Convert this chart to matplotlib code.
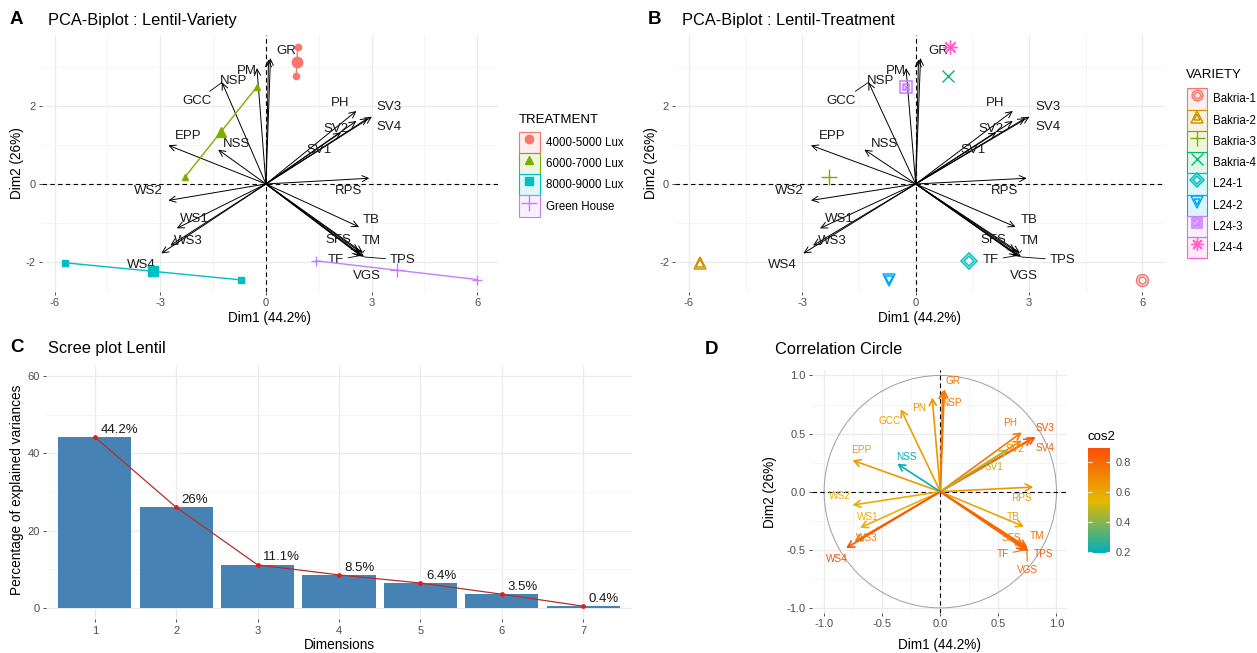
import numpy as np
import matplotlib
matplotlib.use('Agg')
import matplotlib.pyplot as plt
from matplotlib.patches import Rectangle, Circle
from matplotlib.lines import Line2D
from matplotlib.colors import LinearSegmentedColormap, Normalize, to_rgba
from matplotlib.legend_handler import HandlerTuple
from matplotlib.cm import ScalarMappable

plt.rcParams['font.family'] = ['Liberation Sans', 'DejaVu Sans']
plt.rcParams['axes.unicode_minus'] = False

# ---------------- data ----------------
variables = ['GR', 'NSP', 'PM', 'GCC', 'EPP', 'NSS', 'WS2', 'WS1', 'WS3', 'WS4',
             'PH', 'SV3', 'SV4', 'SV2', 'SV1', 'RPS', 'TB', 'SFS', 'TM', 'TF', 'TPS', 'VGS']
circle_names = ['GR', 'NSP', 'PN', 'GCC', 'EPP', 'NSS', 'WS2', 'WS1', 'WS3', 'WS4',
                'PH', 'SV3', 'SV4', 'SV2', 'SV1', 'RPS', 'TB', 'SFS', 'TM', 'TF', 'TPS', 'VGS']
var_dim1 = [0.035, 0.02, -0.07, -0.34, -0.755, -0.37, -0.755, -0.69, -0.74, -0.81,
            0.70, 0.82, 0.79, 0.70, 0.58, 0.80, 0.72, 0.72, 0.75, 0.73, 0.76, 0.745]
var_dim2 = [0.88, 0.87, 0.81, 0.71, 0.27, 0.24, -0.115, -0.31, -0.43, -0.485,
            0.51, 0.47, 0.46, 0.44, 0.36, 0.04, -0.30, -0.47, -0.48, -0.50, -0.51, -0.505]

individuals = ['Bakria-1', 'Bakria-2', 'Bakria-3', 'Bakria-4', 'L24-1', 'L24-2', 'L24-3', 'L24-4']
ind_dim1 = [6.0, -5.71, -2.29, 0.86, 1.42, -0.70, -0.26, 0.90]
ind_dim2 = [-2.45, -2.02, 0.19, 2.76, -1.97, -2.46, 2.49, 3.50]
ind_treatment = ['Green House', '8000-9000 Lux', '6000-7000 Lux', '4000-5000 Lux',
                 'Green House', '8000-9000 Lux', '6000-7000 Lux', '4000-5000 Lux']
treatments = ['4000-5000 Lux', '6000-7000 Lux', '8000-9000 Lux', 'Green House']

dimensions = [1, 2, 3, 4, 5, 6, 7]
explained = [44.2, 26.0, 11.1, 8.5, 6.4, 3.5, 0.4]

dim1_label = 'Dim1 (44.2%)'
dim2_label = 'Dim2 (26%)'

# ---------------- styles / positions ----------------
biplot_scale = 3.67
treat_colors = ['#F8766D', '#7CAE00', '#00BFC4', '#C77CFF']
treat_markers = ['o', '^', 's', '+']
var_colors = ['#F8766D', '#CD9600', '#7CAE00', '#00BE67', '#00BFC4', '#00A9FF', '#C77CFF', '#FF61CC']

bi_label_pos = {'GR': (0.59, 3.42), 'PM': (-0.53, 2.89), 'NSP': (-0.93, 2.63), 'GCC': (-1.97, 2.13),
                'EPP': (-2.22, 1.24), 'NSS': (-0.83, 1.03), 'WS2': (-3.34, -0.17), 'WS1': (-2.02, -0.90),
                'WS3': (-2.21, -1.45), 'WS4': (-3.53, -2.09), 'PH': (2.10, 2.07), 'SV3': (3.5, 1.97),
                'SV4': (3.5, 1.45), 'SV2': (1.99, 1.41), 'SV1': (1.51, 0.87), 'RPS': (2.34, -0.18),
                'TB': (3.0, -0.92), 'SFS': (2.06, -1.43), 'TM': (3.0, -1.45), 'TF': (1.99, -1.95),
                'TPS': (3.88, -1.95), 'VGS': (2.86, -2.37)}
bi_segments = ['GCC', 'TF', 'TPS', 'TM']
circ_label_pos = {'GR': (0.11, 0.95), 'NSP': (0.10, 0.76), 'PN': (-0.18, 0.72), 'GCC': (-0.44, 0.61),
                  'EPP': (-0.68, 0.36), 'NSS': (-0.29, 0.30), 'WS2': (-0.865, -0.035), 'WS1': (-0.62, -0.215),
                  'WS3': (-0.635, -0.40), 'WS4': (-0.89, -0.58), 'PH': (0.60, 0.595), 'SV3': (0.90, 0.55),
                  'SV4': (0.90, 0.38), 'SV2': (0.64, 0.365), 'SV1': (0.46, 0.215), 'RPS': (0.70, -0.057),
                  'TB': (0.63, -0.215), 'SFS': (0.615, -0.40), 'TM': (0.83, -0.38), 'TF': (0.54, -0.54),
                  'TPS': (0.89, -0.54), 'VGS': (0.75, -0.675)}
circ_segments = ['TF', 'VGS']

W, H = 1257, 653
fig = plt.figure(figsize=(W / 100, H / 100), dpi=100)
fig.patch.set_facecolor('white')


def rect(l, t, r, b):
    return [l / W, 1 - b / H, (r - l) / W, (b - t) / H]


def fx(x):
    return x / W


def fy(y):
    return 1 - y / H


def style_axes(ax, xmaj, ymaj, xmin=(), ymin=()):
    ax.set_facecolor('white')
    for s in ax.spines.values():
        s.set_visible(False)
    ax.set_xticks(xmaj)
    ax.set_yticks(ymaj)
    ax.set_xticks(list(xmin), minor=True)
    ax.set_yticks(list(ymin), minor=True)
    ax.grid(True, which='major', color='#EBEBEB', lw=0.9)
    ax.grid(True, which='minor', color='#F4F4F4', lw=0.6)
    ax.tick_params(which='major', length=2.5, width=0.6, color='#333333', labelsize=8,
                   labelcolor='#4D4D4D', pad=2)
    ax.tick_params(which='minor', length=0)
    ax.set_axisbelow(True)


def biplot_base(ax):
    style_axes(ax, [-6, -3, 0, 3, 6], [-2, 0, 2], [-4.5, -1.5, 1.5, 4.5], [-1, 1, 3])
    ax.set_xlim(-6.36, 6.59)
    ax.set_ylim(-2.77, 3.82)
    ax.axhline(0, color='black', ls=(0, (4, 3)), lw=0.8, zorder=1)
    ax.axvline(0, color='black', ls=(0, (4, 3)), lw=0.8, zorder=1)
    for name, d1, d2 in zip(variables, var_dim1, var_dim2):
        tip = (biplot_scale * d1, biplot_scale * d2)
        ax.annotate('', xy=tip, xytext=(0, 0),
                    arrowprops=dict(arrowstyle='->,head_length=0.45,head_width=0.22', lw=0.7,
                                    color='black', shrinkA=0, shrinkB=0), zorder=3)
    for name, d1, d2 in zip(variables, var_dim1, var_dim2):
        tip = (biplot_scale * d1, biplot_scale * d2)
        lx, ly = bi_label_pos[name]
        if name in bi_segments:
            ax.annotate(name, xy=tip, xytext=(lx, ly), ha='center', va='center', fontsize=9.5,
                        color='#1A1A1A',
                        arrowprops=dict(arrowstyle='-', lw=0.6, color='black', shrinkA=1, shrinkB=0),
                        zorder=4)
        else:
            ax.text(lx, ly, name, ha='center', va='center', fontsize=9.5, color='#1A1A1A', zorder=4)


def panel_titles(letter, lx, title, tx, y):
    fig.text(fx(lx), fy(y), letter, fontsize=13.5, fontweight='bold', ha='left', va='center')
    fig.text(fx(tx), fy(y), title, fontsize=11.8, ha='left', va='center')


legend_kw = dict(handler_map={tuple: HandlerTuple(ndivide=1, pad=0)}, loc='upper left',
                 frameon=False, fontsize=8.3, handlelength=1.8,
                 handleheight=2.46, labelspacing=0.0, borderpad=0,
                 handletextpad=0.52, borderaxespad=0)

# ---------------- Panel A ----------------
axA = fig.add_axes(rect(42, 35, 498, 292))
biplot_base(axA)
ind_dim1 = np.array(ind_dim1)
ind_dim2 = np.array(ind_dim2)
for t, c, m in zip(treatments, treat_colors, treat_markers):
    idx = [i for i, tt in enumerate(ind_treatment) if tt == t]
    xs, ys = ind_dim1[idx], ind_dim2[idx]
    axA.plot(xs, ys, color=c, lw=1.0, zorder=5)
    axA.plot(xs, ys, ls='', marker=m, color=c, ms=4.5 if m != '+' else 7, mew=1.0, zorder=6)
    axA.plot([xs.mean()], [ys.mean()], ls='', marker=m, color=c, ms=7.5 if m != '+' else 10,
             mew=1.0, zorder=6)
panel_titles('A', 10, 'PCA-Biplot : Lentil-Variety', 48, 20)
fig.text(fx(270), fy(318), dim1_label, fontsize=9.8, ha='center', va='center')
fig.text(fx(17), fy(163), dim2_label, fontsize=9.8, ha='center', va='center', rotation=90)

handlesA = []
for c, m in zip(treat_colors, treat_markers):
    box = Rectangle((0, 0), 1, 1, facecolor=to_rgba(c, 0.12), edgecolor=c, lw=0.8)
    mk = Line2D([], [], ls='', marker=m, color=c, ms=6 if m != '+' else 11, mew=1.0)
    handlesA.append((box, mk))
fig.legend(handlesA, treatments, bbox_to_anchor=(fx(519), fy(131.7)), **legend_kw)
fig.text(fx(518.5), fy(120), 'TREATMENT', fontsize=9.5, ha='left', va='center')

# ---------------- Panel B ----------------
axB = fig.add_axes(rect(675.3, 35, 1164.8, 292))
biplot_base(axB)
outer_inner = [('o', 8.5, 5), ('^', 9, 5.5), ('+', 12, 12), ('x', 9, 9),
               ('D', 8, 5), ('v', 9, 5.5), ('s', 8, 5), ('asterisk', 10, 10)]
ast = (8, 2, 0)


def draw_shape(x, y, spec, c):
    m, big, small = spec
    arts = []
    if m == 'asterisk':
        arts.append(Line2D([x], [y], ls='', marker=ast, color=c, ms=big, mew=1.0))
    elif m in ('+', 'x'):
        arts.append(Line2D([x], [y], ls='', marker=m, color=c, ms=big, mew=1.0))
    else:
        arts.append(Line2D([x], [y], ls='', marker=m, mfc='none', mec=c, ms=big, mew=1.1))
        arts.append(Line2D([x], [y], ls='', marker=m, mfc='none', mec=c, ms=small, mew=1.1))
        if m == 's':
            arts.append(Line2D([x], [y], ls='', marker='x', color=c, ms=small, mew=0.9))
    return arts


for i, name in enumerate(individuals):
    for a in draw_shape(ind_dim1[i], ind_dim2[i], outer_inner[i], var_colors[i]):
        a.set_zorder(6)
        axB.add_line(a)
panel_titles('B', 648, 'PCA-Biplot : Lentil-Treatment', 682, 20)
fig.text(fx(920), fy(318), dim1_label, fontsize=9.8, ha='center', va='center')
fig.text(fx(651), fy(163), dim2_label, fontsize=9.8, ha='center', va='center', rotation=90)

handlesB = []
for i, c in enumerate(var_colors):
    box = Rectangle((0, 0), 1, 1, facecolor=to_rgba(c, 0.12), edgecolor=c, lw=0.8)
    m, big, small = outer_inner[i]
    parts = [box]
    for a in draw_shape(0, 0, (m, big * 0.9, small * 0.9), c):
        parts.append(Line2D([], [], ls='', marker=a.get_marker(), mfc=a.get_markerfacecolor(),
                            mec=a.get_markeredgecolor(), ms=a.get_markersize(),
                            mew=a.get_markeredgewidth()))
    handlesB.append(tuple(parts))
fig.legend(handlesB, individuals, bbox_to_anchor=(fx(1186.5), fy(88.3)), **legend_kw)
fig.text(fx(1186), fy(75), 'VARIETY', fontsize=9.5, ha='left', va='center')

# ---------------- Panel C ----------------
axC = fig.add_axes(rect(46, 364.5, 632, 619.3))
style_axes(axC, dimensions, [0, 20, 40, 60], [], [10, 30, 50])
axC.set_xlim(0.4, 7.6)
axC.set_ylim(-3, 63)
axC.bar(dimensions, explained, width=0.9, color='#4682B4', zorder=2)
axC.plot(dimensions, explained, color='#B0302C', lw=0.9, zorder=3)
axC.scatter(dimensions, explained, color='#E41A1C', s=12, zorder=4, linewidths=0)
for d, v in zip(dimensions, explained):
    axC.annotate(f'{v:g}%', (d, v), xytext=(4, 1), textcoords='offset points', ha='left',
                 va='bottom', fontsize=9.5, color='#1A1A1A', zorder=5)
panel_titles('C', 10, 'Scree plot Lentil', 48, 348)
fig.text(fx(339), fy(645), 'Dimensions', fontsize=9.8, ha='center', va='center')
fig.text(fx(17), fy(490), 'Percentage of explained variances', fontsize=9.8, ha='center',
         va='center', rotation=90)

# ---------------- Panel D ----------------
axD = fig.add_axes(rect(811.7, 370, 1066.7, 613))
style_axes(axD, [-1, -0.5, 0, 0.5, 1], [-1, -0.5, 0, 0.5, 1], [-0.75, -0.25, 0.25, 0.75],
           [-0.75, -0.25, 0.25, 0.75])
axD.set_xlim(-1.107, 1.088)
axD.set_ylim(-1.044, 1.047)
axD.xaxis.set_major_formatter(matplotlib.ticker.FormatStrFormatter('%.1f'))
axD.yaxis.set_major_formatter(matplotlib.ticker.FormatStrFormatter('%.1f'))
axD.add_patch(Circle((0, 0), 1, fill=False, edgecolor='#9E9E9E', lw=0.7, zorder=1))
axD.axhline(0, color='black', ls=(0, (4, 3)), lw=0.8, zorder=1)
axD.axvline(0, color='black', ls=(0, (4, 3)), lw=0.8, zorder=1)
d1 = np.array(var_dim1)
d2 = np.array(var_dim2)
cos2 = d1 ** 2 + d2 ** 2
cmap = LinearSegmentedColormap.from_list('fx', ['#00AFBB', '#E7B800', '#FC4E07'])
norm = Normalize(vmin=cos2.min(), vmax=cos2.max())
for name, x, y, q in zip(circle_names, d1, d2, cos2):
    col = cmap(norm(q))
    axD.annotate('', xy=(x, y), xytext=(0, 0),
                 arrowprops=dict(arrowstyle='->,head_length=0.45,head_width=0.25', lw=1.2,
                                 color=col, shrinkA=0, shrinkB=0), zorder=3)
for name, x, y, q in zip(circle_names, d1, d2, cos2):
    col = cmap(norm(q))
    lx, ly = circ_label_pos[name]
    if name in circ_segments:
        axD.annotate(name, xy=(x, y), xytext=(lx, ly), ha='center', va='center', fontsize=7.2,
                     color=col, arrowprops=dict(arrowstyle='-', lw=0.8, color=col, shrinkA=1,
                                                shrinkB=0), zorder=4)
    else:
        axD.text(lx, ly, name, ha='center', va='center', fontsize=7.2, color=col, zorder=4)
panel_titles('D', 705, 'Correlation Circle', 775, 350)
fig.text(fx(939), fy(645), dim1_label, fontsize=9.8, ha='center', va='center')
fig.text(fx(770), fy(492), dim2_label, fontsize=9.8, ha='center', va='center', rotation=90)

cax = fig.add_axes(rect(1088, 448, 1110, 553))
sm = ScalarMappable(norm=norm, cmap=cmap)
cb = fig.colorbar(sm, cax=cax)
cb.outline.set_visible(False)
cb.set_ticks([0.2, 0.4, 0.6, 0.8])
cax.tick_params(direction='in', color='white', length=3, width=0.8, left=True, right=True,
                labelsize=8, labelcolor='#4D4D4D', pad=4)
fig.text(fx(1088), fy(437), 'cos2', fontsize=9.5, ha='left', va='center')

fig.savefig('out.png', dpi=100, facecolor='white')
